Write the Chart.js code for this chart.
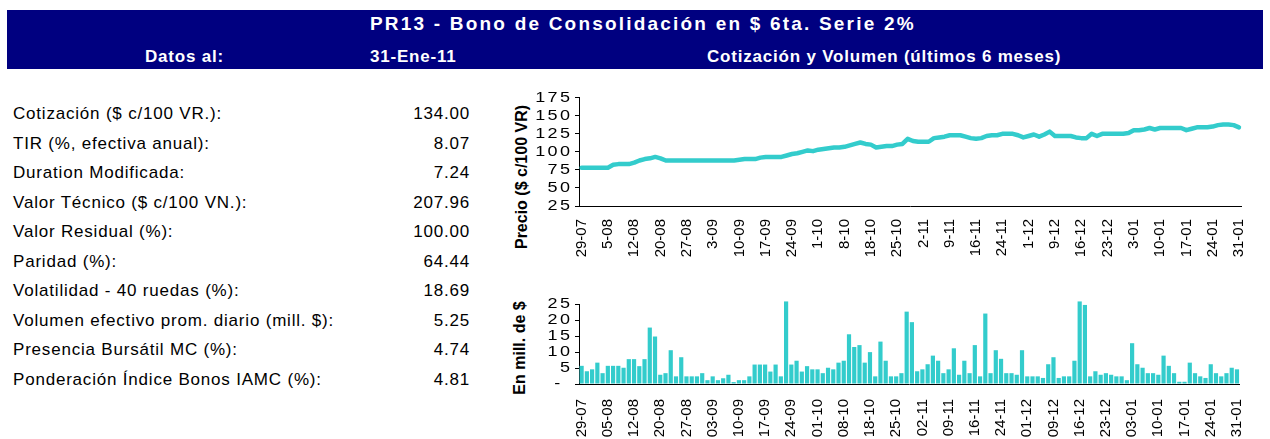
<!DOCTYPE html>
<html lang="es">
<head>
<meta charset="utf-8">
<title>PR13 - Bono de Consolidación en $ 6ta. Serie 2%</title>
<script src="https://cdn.jsdelivr.net/npm/chart.js@4.4.1/dist/chart.umd.min.js"></script>
<style>
  html, body { margin: 0; padding: 0; background: #fff; }
  body {
    width: 1270px; height: 439px; position: relative; overflow: hidden;
    font-family: "Liberation Sans", Arial, sans-serif; color: #000;
  }
  .band { position: absolute; left: 7px; top: 10px; width: 1256px; height: 59px; background: #000080; }
  .hdr { position: absolute; color: #fff; font-weight: bold; white-space: nowrap; line-height: 1; }
  .title { left: 370px; top: 14px; font-size: 19px; letter-spacing: 2.2px; }
  .sub { top: 48px; font-size: 17px; letter-spacing: 0.8px; }
  #stats { position: absolute; left: 13px; top: 99px; width: 457px; font-size: 17px; letter-spacing: 0.8px; }
  #stats div { height: 29.5px; line-height: 29.5px; display: flex; justify-content: space-between; white-space: nowrap; }
  .ytitle {
    position: absolute; font-size: 16px; font-weight: bold; white-space: nowrap; line-height: 1;
    transform: translate(-50%, -50%) rotate(-90deg);
  }
  canvas { position: absolute; }
</style>
</head>
<body>
<div class="band"></div>
<div class="hdr title">PR13 - Bono de Consolidación en $ 6ta. Serie 2%</div>
<div class="hdr sub" style="left:145px">Datos al:</div>
<div class="hdr sub" style="left:370px">31-Ene-11</div>
<div class="hdr sub" style="left:707px">Cotización y Volumen (últimos 6 meses)</div>

<div id="stats"></div>

<div class="ytitle" style="left:522px; top:177px">Precio ($ c/100 VR)</div>
<div class="ytitle" style="left:520px; top:348px">En mill. de $</div>

<canvas id="price" width="770" height="190" style="left:500px; top:85px"></canvas>
<canvas id="volume" width="770" height="154" style="left:500px; top:285px"></canvas>

<script>
const statLabels = [
  'Cotización ($ c/100 VR.):',
  'TIR (%, efectiva anual):',
  'Duration Modificada:',
  'Valor Técnico ($ c/100 VN.):',
  'Valor Residual (%):',
  'Paridad (%):',
  'Volatilidad - 40 ruedas (%):',
  'Volumen efectivo prom. diario (mill. $):',
  'Presencia Bursátil MC (%):',
  'Ponderación Índice Bonos IAMC (%):'
];
const statValues = ['134.00', '8.07', '7.24', '207.96', '100.00', '64.44', '18.69', '5.25', '4.74', '4.81'];

// one label every 5 sessions
const priceTicks = ['29-07', '5-08', '12-08', '20-08', '27-08', '3-09', '10-09', '17-09', '24-09',
  '1-10', '8-10', '18-10', '25-10', '2-11', '9-11', '16-11', '24-11', '1-12', '9-12', '16-12',
  '23-12', '3-01', '10-01', '17-01', '24-01', '31-01'];
const volumeTicks = ['29-07', '05-08', '12-08', '20-08', '27-08', '03-09', '10-09', '17-09', '24-09',
  '01-10', '08-10', '18-10', '25-10', '02-11', '09-11', '16-11', '24-11', '01-12', '09-12', '16-12',
  '23-12', '03-01', '10-01', '17-01', '24-01', '31-01'];

// closing price, $ per 100 VR
const priceValues = [
  78, 78, 78, 78, 78, 78, 82, 83, 83, 83,
  85, 88, 90, 91, 93, 91, 88, 88, 88, 88,
  88, 88, 88, 88, 88, 88, 88, 88, 88, 88,
  89, 90, 90, 90, 92, 93, 93, 93, 93, 95,
  97, 98, 100, 102, 101, 103, 104, 105, 106, 106,
  107, 109, 111, 113, 111, 110, 106, 107, 108, 108,
  110, 111, 118, 115, 114, 114, 114, 119, 120, 121,
  123, 123, 123, 121, 119, 118, 119, 122, 123, 123,
  125, 125, 125, 123, 120, 122, 124, 121, 124, 128,
  122, 122, 122, 122, 120, 119, 119, 125, 122, 125,
  125, 125, 125, 125, 126, 130, 130, 131, 133, 131,
  133, 133, 133, 133, 133, 130, 132, 134, 134, 134,
  135, 137, 138, 138, 137, 134
];

// traded volume, millions of $
const volumeValues = [
  5.7, 4.0, 4.6, 6.7, 3.4, 5.7, 5.7, 5.7, 5.1, 7.8,
  7.8, 5.6, 7.8, 17.7, 14.9, 2.9, 3.4, 10.6, 2.4, 8.4,
  2.4, 2.4, 2.4, 3.4, 1.2, 2.4, 1.2, 1.8, 2.9, 0.6,
  1.2, 1.2, 2.4, 6.1, 6.1, 6.1, 3.9, 6.1, 2.4, 25.9,
  6.1, 7.3, 3.9, 5.6, 4.6, 4.6, 3.4, 5.1, 4.6, 6.7,
  7.3, 15.6, 11.6, 12.2, 6.7, 10.0, 2.4, 13.3, 7.3, 2.4,
  2.4, 3.4, 22.7, 19.4, 4.0, 4.6, 6.2, 8.9, 7.3, 3.4,
  4.6, 11.2, 2.9, 7.3, 3.4, 12.2, 2.4, 22.1, 3.4, 10.6,
  7.9, 3.4, 3.4, 2.9, 10.6, 2.4, 2.4, 2.4, 1.9, 6.2,
  8.4, 1.9, 2.4, 2.4, 7.3, 25.9, 24.8, 2.4, 4.0, 2.9,
  3.4, 2.9, 2.4, 2.4, 1.2, 12.8, 6.2, 5.1, 3.4, 3.4,
  2.9, 8.9, 5.7, 3.4, 0.7, 0.7, 6.7, 3.4, 2.4, 1.9,
  6.2, 3.4, 2.4, 3.4, 5.1, 4.6
];

// left-hand table
const stats = document.getElementById('stats');
statLabels.forEach((label, i) => {
  const row = document.createElement('div');
  const a = document.createElement('span');
  const b = document.createElement('span');
  a.textContent = label;
  b.textContent = statValues[i];
  row.append(a, b);
  stats.appendChild(row);
});

const FONT = '"Liberation Sans", Arial, sans-serif';
const TEAL = '#33CCCC';

// y labels are drawn by hand so they come out wide and spaced
const wideTickLabels = {
  id: 'wideTickLabels',
  afterDraw(chart, args, opts) {
    const { ctx } = chart;
    const scale = chart.scales.y;
    ctx.save();
    ctx.font = '15px ' + FONT;
    ctx.fillStyle = '#000';
    ctx.textBaseline = 'middle';
    if ('letterSpacing' in ctx) ctx.letterSpacing = opts.spacing + 'px';
    scale.ticks.forEach(tick => {
      const y = scale.getPixelForValue(tick.value);
      const dash = opts.zeroDash && tick.value === 0;
      ctx.save();
      ctx.translate(dash ? opts.dashX : opts.right + opts.spacing * opts.stretch, y);
      ctx.scale(opts.stretch, 1);
      ctx.textAlign = dash ? 'center' : 'right';
      ctx.fillText(dash ? '-' : String(tick.value), 0, 0);
      ctx.restore();
    });
    ctx.restore();
  }
};

const sessions = priceValues.map((_, i) => i);

function xAxis(ticks, height, padding) {
  return {
    offset: true,
    grid: { display: false, drawTicks: false },
    border: { display: true, color: '#000', width: 1 },
    ticks: {
      autoSkip: false,
      minRotation: 90,
      maxRotation: 90,
      padding: padding,
      color: '#000',
      font: { family: FONT, size: 15 },
      callback: (value, index) => (index % 5 === 0 ? ticks[index / 5] : '')
    },
    afterFit: s => { s.height = height; }
  };
}

function yAxis(min, max, step) {
  return {
    min: min,
    max: max,
    ticks: { display: false, stepSize: step },
    grid: { display: true, drawOnChartArea: false, drawTicks: true, tickLength: 4, color: '#000' },
    border: { display: true, color: '#000', width: 1 },
    afterFit: s => { s.width = 79; }
  };
}

new Chart(document.getElementById('price'), {
  type: 'line',
  data: {
    labels: sessions,
    datasets: [{
      data: priceValues,
      borderColor: TEAL,
      borderWidth: 4.5,
      borderCapStyle: 'round',
      borderJoinStyle: 'round',
      pointRadius: 0,
      tension: 0
    }]
  },
  options: {
    responsive: false,
    animation: false,
    layout: { padding: { top: 12.7, right: 10, left: 0, bottom: 0 } },
    plugins: {
      legend: { display: false },
      tooltip: { enabled: false },
      wideTickLabels: { right: 70, stretch: 1.2, spacing: 2, zeroDash: false }
    },
    scales: {
      x: xAxis(priceTicks, 69, 13),
      y: yAxis(25, 175, 25)
    }
  },
  plugins: [wideTickLabels]
});

new Chart(document.getElementById('volume'), {
  type: 'bar',
  data: {
    labels: sessions,
    datasets: [{
      data: volumeValues,
      backgroundColor: TEAL,
      barPercentage: 0.8,
      categoryPercentage: 1.0,
      clip: false
    }]
  },
  options: {
    responsive: false,
    animation: false,
    layout: { padding: { top: 19.3, right: 10, left: 0, bottom: 0 } },
    plugins: {
      legend: { display: false },
      tooltip: { enabled: false },
      wideTickLabels: { right: 70, stretch: 1.2, spacing: 2, zeroDash: true, dashX: 58.5 }
    },
    scales: {
      x: xAxis(volumeTicks, 55, 15),
      y: yAxis(0, 25, 5)
    }
  },
  plugins: [wideTickLabels]
});
</script>
</body>
</html>
